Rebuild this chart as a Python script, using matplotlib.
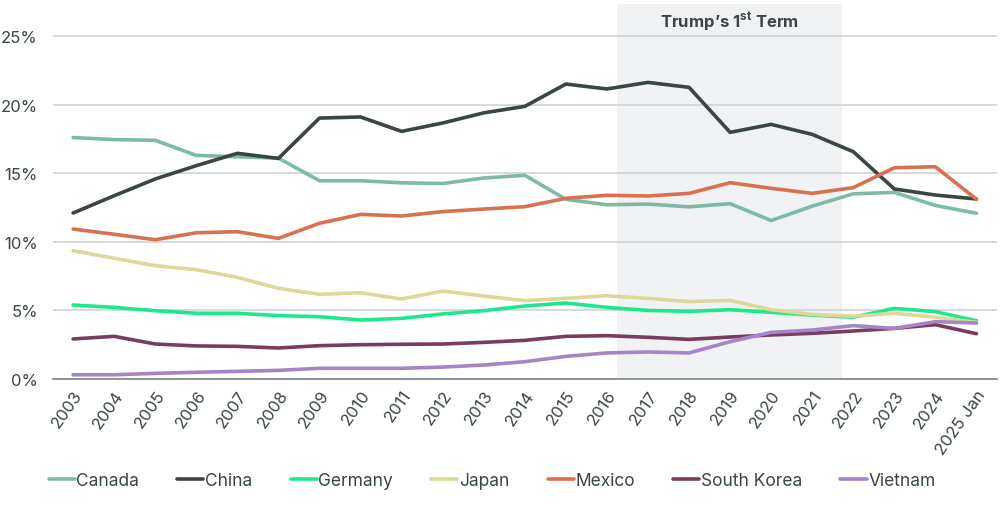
import matplotlib.pyplot as plt

plt.rcParams['font.family'] = ['Inter', 'DejaVu Sans']
plt.rcParams['mathtext.fontset'] = 'custom'
plt.rcParams['mathtext.rm'] = 'Inter'
plt.rcParams['mathtext.bf'] = 'Inter:bold'

years = ['2003', '2004', '2005', '2006', '2007', '2008', '2009', '2010', '2011', '2012',
         '2013', '2014', '2015', '2016', '2017', '2018', '2019', '2020', '2021', '2022',
         '2023', '2024', '2025 Jan']

canada = [17.6, 17.45, 17.4, 16.3, 16.2, 16.1, 14.45, 14.45, 14.3, 14.25, 14.65, 14.85,
          13.1, 12.7, 12.75, 12.55, 12.78, 11.55, 12.6, 13.5, 13.6, 12.65, 12.08]
china = [12.1, 13.36, 14.58, 15.55, 16.45, 16.08, 19.02, 19.1, 18.05, 18.66, 19.4, 19.87,
         21.5, 21.14, 21.62, 21.26, 17.98, 18.56, 17.83, 16.57, 13.85, 13.41, 13.12]
germany = [5.39, 5.22, 4.98, 4.79, 4.79, 4.62, 4.54, 4.3, 4.42, 4.74, 4.98, 5.32,
           5.54, 5.22, 5.0, 4.93, 5.05, 4.86, 4.66, 4.5, 5.15, 4.91, 4.25]
japan = [9.35, 8.8, 8.26, 7.97, 7.41, 6.61, 6.17, 6.29, 5.83, 6.41, 6.05, 5.71,
         5.88, 6.07, 5.88, 5.64, 5.73, 5.05, 4.71, 4.57, 4.79, 4.5, 4.13]
mexico = [10.93, 10.55, 10.15, 10.66, 10.74, 10.25, 11.35, 12.0, 11.88, 12.2, 12.39, 12.56,
          13.17, 13.39, 13.34, 13.53, 14.31, 13.9, 13.53, 13.95, 15.4, 15.47, 13.1]
south_korea = [2.92, 3.11, 2.55, 2.41, 2.38, 2.26, 2.43, 2.5, 2.53, 2.55, 2.67, 2.82,
               3.11, 3.16, 3.04, 2.89, 3.06, 3.21, 3.33, 3.5, 3.69, 3.96, 3.3]
vietnam = [0.31, 0.31, 0.41, 0.49, 0.56, 0.63, 0.78, 0.78, 0.78, 0.87, 1.02, 1.26,
           1.65, 1.9, 1.97, 1.9, 2.72, 3.4, 3.57, 3.89, 3.69, 4.18, 4.08]

series = [('Canada', canada, '#7dbba8'),
          ('China', china, '#3a4646'),
          ('Germany', germany, '#1ee88c'),
          ('Japan', japan, '#dcd89a'),
          ('Mexico', mexico, '#d9704f'),
          ('South Korea', south_korea, '#7a3b5e'),
          ('Vietnam', vietnam, '#a585c8')]

text_color = '#3a4646'

fig = plt.figure(figsize=(10, 5.06), dpi=100)
ax = fig.add_axes([0.053, 0.249, 0.944, 0.741])

x = list(range(len(years)))

# shaded first term
ax.axvspan(13.25, 18.73, color='#f1f2f4', zorder=0, lw=0)
ax.text((13.25 + 18.73) / 2, 26.1, r"Trump’s 1$^{\mathbf{st}}$ Term", ha='center', va='center',
        fontsize=12, fontweight='bold', color=text_color)

for name, vals, col in series:
    ax.plot(x, vals, color=col, lw=2.6, label=name, solid_capstyle='round', zorder=3)

ax.set_xlim(-0.49, 22.5)
ax.set_ylim(0, 27.33)
ax.set_yticks([0, 5, 10, 15, 20, 25])
ax.set_yticklabels(['0%', '5%', '10%', '15%', '20%', '25%'])
ax.grid(axis='y', color='#d0d4d6', lw=1.2, zorder=1)
ax.set_axisbelow(True)
ax.set_xticks(x)
ax.set_xticklabels(years, rotation=55, ha='right', rotation_mode='anchor')
ax.tick_params(axis='both', length=0, labelsize=12, colors=text_color)
ax.tick_params(axis='x', pad=6)
ax.tick_params(axis='y', pad=11)
for s in ['top', 'right', 'left']:
    ax.spines[s].set_visible(False)
ax.spines['bottom'].set_color('#7d8587')
ax.spines['bottom'].set_linewidth(1.2)

fig.legend(loc='center', bbox_to_anchor=(0.492, 0.048), ncol=7, frameon=False,
           fontsize=12.5, handlelength=1.5, handletextpad=0.1, columnspacing=2.2,
           labelcolor=text_color)

fig.savefig('out.png', dpi=100)
